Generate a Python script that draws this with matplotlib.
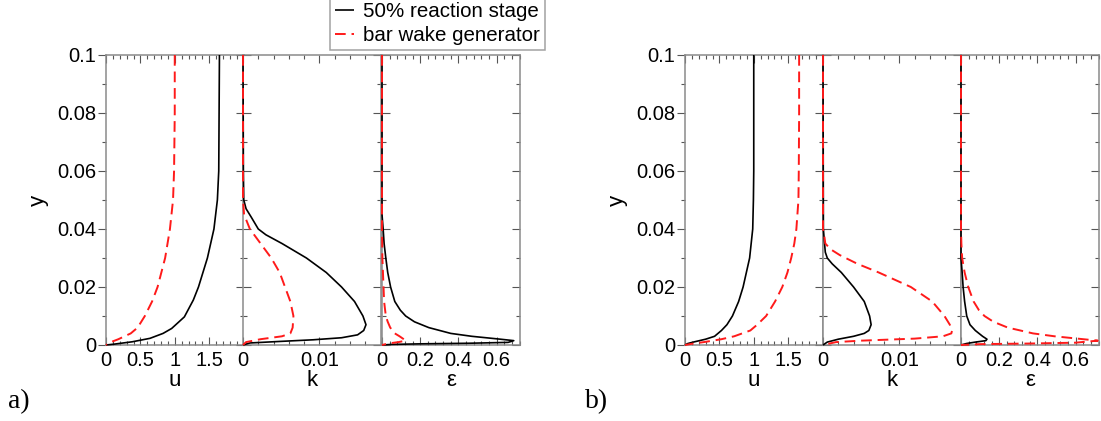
import numpy as np
import matplotlib
matplotlib.use("Agg")
import matplotlib.pyplot as plt
from matplotlib.ticker import MultipleLocator, FixedLocator, FixedFormatter, NullFormatter

plt.rcParams['font.family'] = ['Liberation Sans', 'DejaVu Sans']

# ---------------- data ----------------
# panel a) -- velocity u
ya_u_black = [0.1, 0.08, 0.06, 0.05, 0.04, 0.03, 0.02, 0.0155, 0.0097, 0.0057, 0.004, 0.0023, 0.0011, 0.0003, 0.0]
ua_black   = [1.65, 1.645, 1.64, 1.62, 1.57, 1.475, 1.345, 1.27, 1.14, 0.955, 0.83, 0.64, 0.38, 0.12, 0.0]
ya_u_red   = [0.1, 0.08, 0.06, 0.05, 0.04, 0.03, 0.02, 0.015, 0.01, 0.006, 0.004, 0.002, 0.001, 0.0]
ua_red     = [1.0, 1.0, 0.99, 0.975, 0.93, 0.86, 0.75, 0.67, 0.565, 0.46, 0.36, 0.18, 0.07, 0.0]
# panel a) -- turbulent kinetic energy k
ya_k_black = [0.1, 0.06, 0.05, 0.047, 0.044, 0.04, 0.038, 0.035, 0.03, 0.025, 0.02, 0.015, 0.01, 0.007, 0.005, 0.0035, 0.0025, 0.0018, 0.0012, 0.0007, 0.0]
ka_black   = [0.0, 0.00005, 0.0001, 0.0004, 0.0011, 0.002, 0.003, 0.0051, 0.0083, 0.0109, 0.0129, 0.0146, 0.0157, 0.0161, 0.0158, 0.015, 0.0129, 0.0092, 0.0046, 0.0009, 0.0]
ya_k_red   = [0.1, 0.05, 0.045, 0.04, 0.035, 0.03, 0.025, 0.02, 0.015, 0.01, 0.006, 0.004, 0.003, 0.002, 0.001, 0.0]
ka_red     = [0.0, 0.0, 0.00014, 0.0009, 0.0023, 0.0037, 0.0048, 0.0055, 0.0062, 0.0066, 0.0065, 0.0062, 0.0051, 0.0023, 0.0004, 0.0]
# panel a) -- dissipation epsilon
ya_e_black = [0.1, 0.045, 0.04, 0.035, 0.03, 0.025, 0.02, 0.015, 0.012, 0.01, 0.008, 0.006, 0.004, 0.003, 0.002, 0.0015, 0.0009, 0.0006, 0.0004, 0.0002, 0.0]
ea_black   = [0.0, 0.0, 0.006, 0.011, 0.02, 0.03, 0.045, 0.067, 0.096, 0.124, 0.17, 0.245, 0.36, 0.47, 0.62, 0.69, 0.66, 0.45, 0.2, 0.05, 0.0]
ya_e_red   = [0.1, 0.04, 0.03, 0.02, 0.015, 0.01, 0.008, 0.006, 0.004, 0.003, 0.002, 0.0015, 0.001, 0.0005, 0.0]
ea_red     = [0.0, 0.0, 0.002, 0.008, 0.011, 0.02, 0.03, 0.043, 0.067, 0.092, 0.114, 0.124, 0.086, 0.03, 0.0]

# panel b) -- velocity u
yb_u_black = [0.1, 0.08, 0.06, 0.05, 0.04, 0.03, 0.02, 0.015, 0.01, 0.007, 0.005, 0.003, 0.002, 0.001, 0.0005, 0.0]
ub_black   = [1.0, 1.0, 1.0, 0.995, 0.985, 0.94, 0.845, 0.78, 0.69, 0.61, 0.53, 0.43, 0.30, 0.12, 0.04, 0.0]
yb_u_red   = [0.1, 0.08, 0.06, 0.05, 0.04, 0.035, 0.03, 0.025, 0.02, 0.015, 0.01, 0.007, 0.005, 0.003, 0.002, 0.001, 0.0005, 0.0]
ub_red     = [1.66, 1.66, 1.655, 1.65, 1.62, 1.59, 1.545, 1.49, 1.415, 1.31, 1.18, 1.05, 0.95, 0.715, 0.53, 0.275, 0.12, 0.0]
# panel b) -- k
yb_k_black = [0.1, 0.04, 0.035, 0.032, 0.03, 0.028, 0.025, 0.02, 0.015, 0.01, 0.007, 0.005, 0.004, 0.003, 0.002, 0.001, 0.0]
kb_black   = [0.0, 0.00005, 0.0002, 0.0003, 0.00056, 0.0012, 0.0024, 0.004, 0.0054, 0.0061, 0.0063, 0.006, 0.0054, 0.004, 0.002, 0.00056, 0.0]
yb_k_red   = [0.1, 0.04, 0.037, 0.035, 0.033, 0.031, 0.028, 0.025, 0.02, 0.015, 0.01, 0.007, 0.005, 0.004, 0.003, 0.0022, 0.0015, 0.001, 0.0]
kb_red     = [0.0, 0.0, 0.0002, 0.0003, 0.001, 0.0022, 0.0045, 0.0073, 0.0115, 0.0143, 0.0159, 0.0166, 0.0169, 0.0168, 0.0157, 0.012, 0.005, 0.0017, 0.0]
# panel b) -- epsilon
yb_e_black = [0.1, 0.03, 0.025, 0.02, 0.015, 0.01, 0.007, 0.005, 0.003, 0.002, 0.0015, 0.001, 0.0005, 0.0]
eb_black   = [0.0, 0.0, 0.006, 0.011, 0.019, 0.03, 0.047, 0.075, 0.113, 0.136, 0.13, 0.075, 0.028, 0.0]
yb_e_red   = [0.1, 0.04, 0.035, 0.03, 0.025, 0.02, 0.015, 0.012, 0.01, 0.008, 0.006, 0.004, 0.003, 0.002, 0.0015, 0.0008, 0.0005, 0.0003, 0.0]
eb_red     = [0.0, 0.0, 0.002, 0.006, 0.019, 0.038, 0.066, 0.094, 0.123, 0.17, 0.245, 0.377, 0.49, 0.64, 0.716, 0.6, 0.35, 0.1, 0.0]

legend_labels = ["50% reaction stage", "bar wake generator"]
x_labels = ["u", "k", "\u03b5"]
panel_tags = ["a)", "b)"]

# ---------------- figure ----------------
W, H = 1101, 421
fig = plt.figure(figsize=(W / 100, H / 100), dpi=100)

spine_col = "#8a8a8a"
tick_col = "#555555"
blk_kw = dict(color="black", lw=1.2, solid_capstyle="butt")
red_kw = dict(color="#ff1a1a", lw=1.4, dashes=(5.5, 3))

top_px, bot_px = 55, 345
panel_left = [[106, 243, 382], [685, 823, 961]]
pw = 137.5

xlims = [(0, 2.0), (0, 0.018), (0, 0.72)]
x_major = [[0, 0.5, 1, 1.5, 2.0], [0, 0.01], [0, 0.2, 0.4, 0.6]]
x_major_lab = [["0", "0.5", "1", "1.5", ""], ["0", "0.01"], ["0", "0.2", "0.4", "0.6"]]
x_minor = [0.1, 0.002, 0.04]

data = [
    [(ya_u_black, ua_black, ya_u_red, ua_red),
     (ya_k_black, ka_black, ya_k_red, ka_red),
     (ya_e_black, ea_black, ya_e_red, ea_red)],
    [(yb_u_black, ub_black, yb_u_red, ub_red),
     (yb_k_black, kb_black, yb_k_red, kb_red),
     (yb_e_black, eb_black, yb_e_red, eb_red)],
]

handles = None
for p in range(2):
    for j in range(3):
        l = panel_left[p][j]
        ax = fig.add_axes([l / W, (H - bot_px) / H, pw / W, (bot_px - top_px) / H])
        yb, xb, yr, xr = data[p][j]
        h1, = ax.plot(xb, yb, zorder=5, clip_on=False, **blk_kw)
        h2, = ax.plot(xr, yr, zorder=6, clip_on=False, **red_kw)
        handles = [h1, h2]
        ax.set_xlim(*xlims[j])
        ax.set_ylim(0, 0.1)
        for s in ax.spines.values():
            s.set_color(spine_col)
            s.set_linewidth(1.1)
        ax.xaxis.set_major_locator(FixedLocator(x_major[j]))
        ax.xaxis.set_major_formatter(FixedFormatter(x_major_lab[j]))
        ax.xaxis.set_minor_locator(MultipleLocator(x_minor[j]))
        ax.yaxis.set_major_locator(MultipleLocator(0.02))
        ax.yaxis.set_minor_locator(MultipleLocator(0.01))
        ax.tick_params(axis="x", which="both", direction="in", top=True, bottom=True,
                       color=tick_col, width=0.8, labelsize=14.5, pad=4)
        ax.tick_params(axis="x", which="major", length=6)
        ax.tick_params(axis="x", which="minor", length=3)
        ax.set_xlabel(x_labels[j], fontsize=16, labelpad=0)
        if j == 0:
            ax.tick_params(axis="y", which="both", direction="out", left=True, right=False,
                           color=tick_col, width=0.8, labelsize=14.5, pad=1)
            ax.tick_params(axis="y", which="major", length=6)
            ax.tick_params(axis="y", which="minor", length=3)
            ax.yaxis.set_major_formatter(plt.FuncFormatter(lambda v, pos: "0" if abs(v) < 1e-12 else ("%g" % v)))
            ax.set_ylabel("y", fontsize=16, labelpad=6)
            sec = ax.secondary_yaxis("right")
            sec.yaxis.set_major_locator(MultipleLocator(0.02))
            sec.yaxis.set_minor_locator(MultipleLocator(0.01))
            sec.tick_params(axis="y", which="both", direction="in", color=tick_col, width=0.8)
            sec.tick_params(axis="y", which="major", length=6)
            sec.tick_params(axis="y", which="minor", length=3)
            sec.yaxis.set_major_formatter(NullFormatter())
            sec.spines["right"].set_visible(False)
        else:
            ax.tick_params(axis="y", which="both", direction="in", left=True, right=True,
                           color=tick_col, width=0.8, labelleft=False)
            ax.tick_params(axis="y", which="major", length=6)
            ax.tick_params(axis="y", which="minor", length=3)

for p, tag in enumerate(panel_tags):
    x = [8, 585][p]
    fig.text(x / W, (H - 402) / H, tag, fontsize=20, family="Liberation Serif", va="center", ha="left")

leg = fig.legend(handles, legend_labels, loc="lower left",
                 bbox_to_anchor=(330 / W, (H - 50) / H), fontsize=14.8,
                 frameon=True, fancybox=False, handlelength=0.9, handletextpad=0.45,
                 borderpad=0.25, labelspacing=0.22, borderaxespad=0)
leg.get_frame().set_edgecolor(spine_col)
leg.get_frame().set_linewidth(1.1)

fig.savefig("out.png", dpi=100)
